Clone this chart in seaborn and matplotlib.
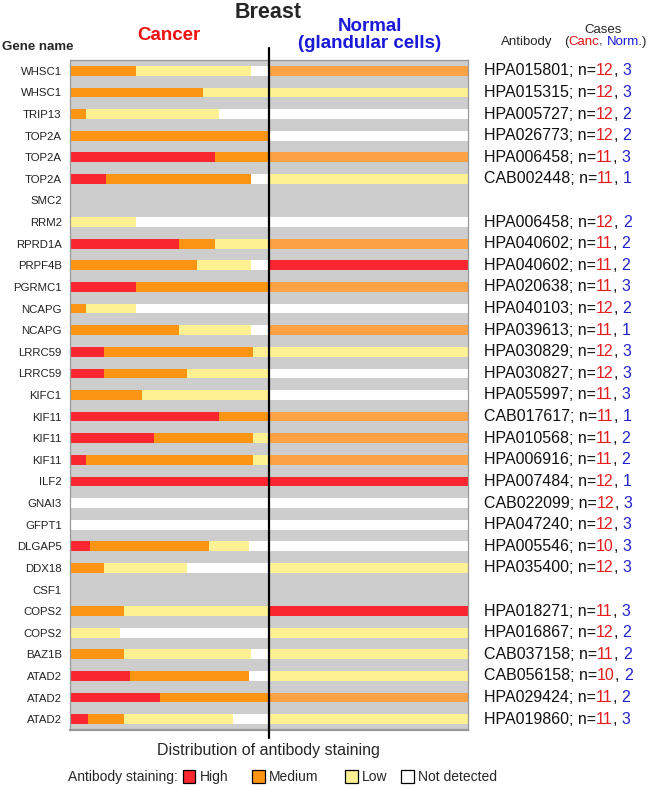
import numpy as np
import pandas as pd
import matplotlib
matplotlib.use("Agg")
import matplotlib.pyplot as plt
from matplotlib.patches import Patch
import seaborn as sns

sns.set_style("white")
plt.rcParams['font.family'] = ['Liberation Sans', 'DejaVu Sans']

# ---------------- data ----------------
genes = ["WHSC1", "WHSC1", "TRIP13", "TOP2A", "TOP2A", "TOP2A", "SMC2", "RRM2",
         "RPRD1A", "PRPF4B", "PGRMC1", "NCAPG", "NCAPG", "LRRC59", "LRRC59", "KIFC1",
         "KIF11", "KIF11", "KIF11", "ILF2", "GNAI3", "GFPT1", "DLGAP5", "DDX18",
         "CSF1", "COPS2", "COPS2", "BAZ1B", "ATAD2", "ATAD2", "ATAD2"]

# fraction of cancer cases per staining level
cancer_high   = [0.00, 0.00, 0.00, 0.00, 0.73, 0.18, 0.00, 0.00, 0.55, 0.00, 0.33, 0.00, 0.00, 0.17, 0.17, 0.00,
                 0.75, 0.42, 0.08, 1.00, 0.00, 0.00, 0.10, 0.00, 0.00, 0.00, 0.00, 0.00, 0.30, 0.45, 0.09]
cancer_medium = [0.33, 0.67, 0.08, 1.00, 0.27, 0.73, 0.00, 0.00, 0.18, 0.64, 0.67, 0.08, 0.55, 0.75, 0.42, 0.36,
                 0.25, 0.50, 0.84, 0.00, 0.00, 0.00, 0.60, 0.17, 0.00, 0.27, 0.00, 0.27, 0.60, 0.55, 0.18]
cancer_low    = [0.58, 0.33, 0.67, 0.00, 0.00, 0.00, 0.00, 0.33, 0.27, 0.27, 0.00, 0.25, 0.36, 0.08, 0.41, 0.64,
                 0.00, 0.08, 0.08, 0.00, 0.00, 0.00, 0.20, 0.42, 0.00, 0.73, 0.25, 0.64, 0.00, 0.00, 0.55]
has_data      = [1, 1, 1, 1, 1, 1, 0, 1, 1, 1, 1, 1, 1, 1, 1, 1,
                 1, 1, 1, 1, 1, 1, 1, 1, 0, 1, 1, 1, 1, 1, 1]

normal_level = ["Medium", "Low", "Not detected", "Not detected", "Medium", "Low", "None", "Not detected",
                "Medium", "High", "Medium", "Not detected", "Medium", "Low", "Not detected", "Not detected",
                "Medium", "Medium", "Medium", "High", "Not detected", "Not detected", "Not detected", "Low",
                "None", "High", "Low", "Low", "Low", "Medium", "Low"]

antibodies = ["HPA015801", "HPA015315", "HPA005727", "HPA026773", "HPA006458", "CAB002448", "",
              "HPA006458", "HPA040602", "HPA040602", "HPA020638", "HPA040103", "HPA039613",
              "HPA030829", "HPA030827", "HPA055997", "CAB017617", "HPA010568", "HPA006916",
              "HPA007484", "CAB022099", "HPA047240", "HPA005546", "HPA035400", "",
              "HPA018271", "HPA016867", "CAB037158", "CAB056158", "HPA029424", "HPA019860"]
n_cancer = [12, 12, 12, 12, 11, 11, 0, 12, 11, 11, 11, 12, 11, 12, 12, 11,
            11, 11, 11, 12, 12, 12, 10, 12, 0, 11, 12, 11, 10, 11, 11]
n_normal = [3, 3, 2, 2, 3, 1, 0, 2, 2, 2, 3, 2, 1, 3, 3, 3,
            1, 2, 2, 1, 3, 3, 3, 3, 0, 3, 2, 2, 2, 2, 3]

levels = ["High", "Medium", "Low", "Not detected"]

# ---------------- colours ----------------
C_HIGH = "#F9262F"
C_MED = "#FD9514"
C_MED_N = "#FBA244"
C_LOW = "#FEF193"
C_ND = "#FFFFFF"
C_BG = "#CDCDCD"
normal_pal = {"High": C_HIGH, "Medium": C_MED_N, "Low": C_LOW, "Not detected": C_ND, "None": C_BG}

df = pd.DataFrame({
    "row": np.arange(len(genes)),
    "gene": genes,
    "high": cancer_high,
    "medium": cancer_medium,
    "low": cancer_low,
    "has": has_data,
    "normal": normal_level,
})
df["c_high"] = df["high"]
df["c_med"] = df["high"] + df["medium"]
df["c_low"] = df["c_med"] + df["low"]
df["c_all"] = df["has"] * 1.0
df["n_width"] = df["has"] * 2.0   # normal bar spans the whole axis, cancer bars drawn over left half

# ---------------- figure ----------------
W, H = 650, 786
fig = plt.figure(figsize=(W / 100, H / 100), dpi=100)
L, R, T, B = 70, 468, 60, 730
ax = fig.add_axes([L / W, 1 - B / H, (R - L) / W, (B - T) / H])
ax.set_facecolor(C_BG)

bw = 0.45
sns.barplot(data=df, x="n_width", y="row", hue="normal", palette=normal_pal, orient="h",
            dodge=False, legend=False, width=bw, saturation=1, errorbar=None, linewidth=0, ax=ax)
for col, c in [("c_all", C_ND), ("c_low", C_LOW), ("c_med", C_MED), ("c_high", C_HIGH)]:
    sns.barplot(data=df, x=col, y="row", orient="h", color=c, width=bw, saturation=1,
                errorbar=None, linewidth=0, ax=ax)

ax.set_xlim(0, 2)
ax.set_ylim(len(genes) - 0.5, -0.5)
ax.set_xlabel("")
ax.set_ylabel("")
ax.set_yticks(range(len(genes)))
ax.set_yticklabels(genes, fontsize=8.2, color="#222222")
ax.set_yticks(np.arange(-0.5, len(genes), 1.0), minor=True)
ax.tick_params(axis="y", which="major", length=0, pad=6)
ax.tick_params(axis="y", which="minor", length=5, color="#888888", width=0.8)
ax.set_xticks([0, 0.5, 1, 1.5, 2])
ax.set_xticklabels([])
ax.tick_params(axis="x", which="major", length=7, color="#888888", width=0.8, direction="out")
for s in ax.spines.values():
    s.set_color("#999999")
    s.set_linewidth(0.9)
ax.spines["bottom"].set_linewidth(1.6)

# divider line
ax.axvline(1, ymin=-0.012, ymax=1.018, color="black", lw=1.6, clip_on=False, zorder=5)

# ---------------- right-hand antibody annotations ----------------
fs_ab = 11.5
for i, ab in enumerate(antibodies):
    if not ab:
        continue
    t1 = ax.annotate(f"{ab}; n=", xy=(2.08, i), xycoords="data", va="center", ha="left",
                     fontsize=fs_ab, color="#111111", annotation_clip=False)
    t2 = ax.annotate(str(n_cancer[i]), xy=(1, 0), xycoords=t1, va="bottom", ha="left",
                     fontsize=fs_ab, color="#E81C1C")
    t3 = ax.annotate(",", xy=(1, 0), xycoords=t2, va="bottom", ha="left",
                     fontsize=fs_ab, color="#111111")
    ax.annotate(str(n_normal[i]), xy=(1, 0), xycoords=t3, xytext=(3.4, 0), textcoords="offset points",
                va="bottom", ha="left", fontsize=fs_ab, color="#2222CC")

# ---------------- headers ----------------
fig.text(268 / W, 1 - 12 / H, "Breast", ha="center", va="center", fontsize=15.5, fontweight="bold")
fig.text(169 / W, 1 - 35 / H, "Cancer", ha="center", va="center", fontsize=13.5,
         fontweight="bold", color="#EE1111")
fig.text(370 / W, 1 - 35 / H, "Normal\n(glandular cells)", ha="center", va="center", fontsize=13.5,
         fontweight="bold", color="#1A1ADB", linespacing=1.0)
fig.text(2 / W, 1 - 47 / H, "Gene name", ha="left", va="center", fontsize=9.5, fontweight="bold")
fig.text(527 / W, 1 - 42 / H, "Antibody", ha="center", va="center", fontsize=9.5)
fig.text(603 / W, 1 - 30 / H, "Cases", ha="center", va="center", fontsize=9.5)
h1 = fig.text(564 / W, 1 - 42 / H, "(", ha="left", va="center", fontsize=9.5)
h2 = plt.annotate("Canc", xy=(1, 0), xycoords=h1, va="bottom", ha="left", fontsize=9.5, color="#EE1111")
h3 = plt.annotate(",", xy=(1, 0), xycoords=h2, va="bottom", ha="left", fontsize=9.5)
h4 = plt.annotate("Norm.", xy=(1, 0), xycoords=h3, xytext=(2.6, 0), textcoords="offset points",
                  va="bottom", ha="left", fontsize=9.5, color="#1A1ADB")
plt.annotate(")", xy=(1, 0), xycoords=h4, va="bottom", ha="left", fontsize=9.5)

fig.text(268 / W, 1 - 750 / H, "Distribution of antibody staining", ha="center", va="center",
         fontsize=11.5)

# ---------------- legend ----------------
ly = 1 - 777 / H
fig.text(68 / W, ly, "Antibody staining:", ha="left", va="center", fontsize=10)
leg_colors = [C_HIGH, C_MED, C_LOW, C_ND]
leg_x = [183, 252, 345, 401]
for lab, c, x in zip(levels, leg_colors, leg_x):
    fig.legend([Patch(facecolor=c, edgecolor="black", linewidth=0.9)], [lab],
               loc="center left", bbox_to_anchor=(x / W, ly), frameon=False, fontsize=10,
               handlelength=0.9, handleheight=1.1, handletextpad=0.35, borderpad=0, borderaxespad=0)

fig.savefig("out.png", dpi=100)
